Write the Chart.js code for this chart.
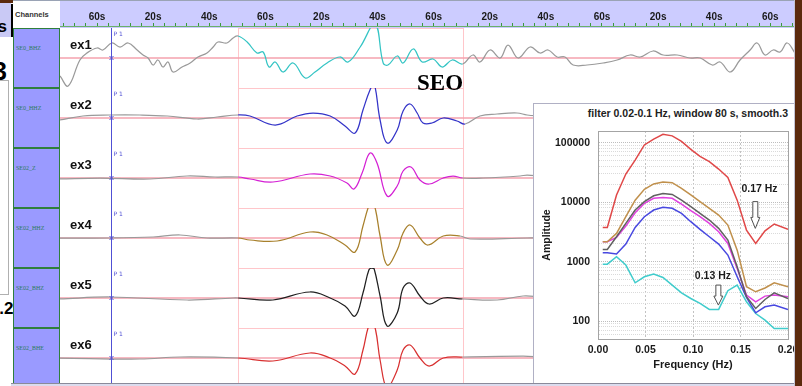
<!DOCTYPE html>
<html>
<head>
<meta charset="utf-8">
<title>SEO waveforms and spectra</title>
<script src="https://cdn.jsdelivr.net/npm/chart.js@4.4.1/dist/chart.umd.min.js"></script>
<style>
  html, body { margin:0; padding:0; }
  body { width:802px; height:386px; position:relative; overflow:hidden; background:#fff;
         font-family:"Liberation Sans", Arial, sans-serif; }
  .a { position:absolute; }
  canvas { position:absolute; display:block; }
  .cell { position:absolute; left:13px; width:45px; height:58px; background:#9a9aff; border:1px solid #2f7f3c; }
  .chan { position:absolute; left:16px; font:6px "Liberation Serif", serif; color:#2f7a5c; white-space:nowrap; line-height:8px; }
  .exlab { position:absolute; left:70px; font:bold 13px "Liberation Sans", Arial, sans-serif; color:#111; line-height:15px; }
</style>
</head>
<body>

<!-- neighbouring window fragment on the left -->
<div class="a" style="left:0;top:0;width:13px;height:3px;background:#5b2a0d"></div>
<div class="a" style="left:0;top:3px;width:11px;height:34px;background:#c9c9f5;overflow:hidden">
  <div class="a" style="left:-20px;top:14px;width:27px;text-align:right;font:bold 17px 'Liberation Sans',Arial,sans-serif;line-height:20px;color:#000">s</div>
</div>
<div class="a" style="left:11px;top:4px;width:2px;height:33px;background:#000"></div>
<div class="a" style="left:-20px;top:57px;width:27px;text-align:right;font:bold 25px 'Liberation Sans',Arial,sans-serif;line-height:29px;color:#000">3</div>
<div class="a" style="left:-10px;top:80px;width:17px;height:213px;border:1px solid #b0b0b0"></div>
<div class="a" style="left:-20px;top:299px;width:33.5px;text-align:right;font:bold 17px 'Liberation Sans',Arial,sans-serif;line-height:20px;color:#000">.2</div>

<!-- channel list header and time bar -->
<div class="a" style="left:13px;top:0;width:782px;height:1px;background:#9aa3b5"></div>
<div class="a" style="left:14px;top:1px;width:46px;height:26px;background:#fff"></div>
<div class="a" style="left:15px;top:10px;font:bold 7.5px 'Liberation Sans',Arial,sans-serif;color:#333;line-height:10px">Channels</div>
<div class="a" style="left:60px;top:1px;width:735px;height:27px;background:#ccccff"></div>
<canvas id="timeAxis" width="735" height="28" style="left:60px;top:0"></canvas>

<div id="cells"></div>
<div class="a" id="rows" style="left:60px;top:28px;width:735px;height:355px;overflow:hidden"></div>
<div id="labels"></div>

<div class="a" style="left:417px;top:70px;font:bold 23px 'Liberation Serif','Times New Roman',serif;line-height:26px;color:#000">SEO</div>

<!-- spectrum panel -->
<div class="a" style="left:533px;top:103px;width:268px;height:279px;border:1px solid #b0b0c4;background:#fff"></div>
<div class="a" style="left:540px;top:106px;width:248px;text-align:right;font:bold 10.5px 'Liberation Sans',Arial,sans-serif;line-height:14px;color:#222">filter 0.02-0.1 Hz, window 80 s, smooth.3</div>
<canvas id="spectrum" width="261" height="261" style="left:534px;top:122px"></canvas>

<!-- window frame -->
<div class="a" style="left:11px;top:383px;width:784px;height:2px;border-top:1px solid #8a8a9a;background:#dcdcee"></div>
<div class="a" style="left:794px;top:0;width:1px;height:386px;background:#c4c4d4"></div>
<div class="a" style="left:795px;top:0;width:7px;height:386px;background:#5b2a0d"></div>

<script>
// ---------- time axis (seconds, 0 = first "60s" mark) ----------
const T_MIN = -13.2, T_MAX = 248.8;
const TIME_TICKS  = [0, 20, 40, 60, 80, 100, 120, 140, 160, 180, 200, 220, 240];
const TIME_LABELS = ['60s','20s','40s','60s','20s','40s','60s','20s','40s','60s','20s','40s','60s'];
const P1_TIME = 5.0;
const WINDOW = [50.3, 130.3];

// ---------- traces ----------
const TRACE_NAMES = ['ex1', 'ex2', 'ex3', 'ex4', 'ex5', 'ex6'];
const CHANNELS = ['SE0_BHZ', 'SE0_HHZ', 'SE02_Z', 'SE02_HHZ', 'SE02_BHZ', 'SE02_BHE'];
const TRACE_COLORS = ['#33c4c4', '#3434c8', '#d420d4', '#a8802c', '#202020', '#d83030'];
const OUTSIDE_COLOR = '#9a9a9a';

const EX1_TIME = [-13.2,-10.3,-6.1,-3.6,0,2.1,5.3,8.2,11.1,14.3,16.4,18.2,20.0,21.7,23.5,25.3,27.1,30.3,33.2,36.0,
  39.2,41.4,43.1,46.3,48.5,50.3,53.5,57.0,59.2,61.3,63.5,66.3,69.9,74.2,77.7,82.0,86.6,89.5,93.8,99.1,
  102.0,103.7,107.0,109.1,112.7,115.9,119.8,123.0,126.6,130.3,134.0,136.5,140.1,143.7,146.5,150.1,154.4,157.9,160.8,164.0,
  166.8,169.7,174.7,180.4,185.4,190.0,193.6,198.2,201.8,206.8,211.4,215.0,219.3,222.1,225.7,229.2,232.8,235.3,238.1,241.0,
  243.5,246.0,248.8];
const EX1_AMP = [-18,-28,-2,5,10,8,15,11,15,8,3,0,-7,-2,-9,-4,-14,-9,-5,1,
  5,11,16,15,20,22,16,5,6,-9,-4,-14,-5,-20,-14,-5,1,-4,11,34,
  -5,-7,2,-5,9,-4,-1,-9,-2,-6,3,-4,8,0,13,0,11,5,8,1,
  1,-7,-7,-5,-2,3,1,7,3,3,0,0,-7,-4,-14,-2,8,15,3,8,
  6,15,5];

const EX2_TIME = [-13.2,-5,4.6,15.3,25,35.7,42.8,50.3,54.5,63.5,71.3,77.0,83.1,88.4,92.0,94.8,97.3,98.8,100.9,103.4,
  107.0,109.1,111.6,114.1,116.2,119.4,123.4,128.3,131.2,136.5,142.6,149.7,153.3,158];
const EX2_AMP = [-2,2,3,3,2,-1,1,3,2,-7,2,5,2,-8,-15,8,28,34,-2,-25,
  -12,7,14,5,-5,-5,0,-3,-6,2,4,5,3,2];

const EX3_TIME = [-13.2,1.1,18.9,32.1,42.1,50.3,54.5,62.7,75.9,83.1,89.1,91.6,94.5,97.3,99.8,103.4,107.0,109.1,111.9,115.1,
  118.4,123.4,126.9,130.3,137.6,150.8,153.3,158];
const EX3_AMP = [-1,0,-1,2,1,1,-1,-4,4,2,-5,-11,5,25,15,-18,-8,7,11,-2,
  -6,0,2,0,0,2,3,2];

const EX4_TIME = [-13.2,5,20,29.6,39.2,50.3,54.5,64.2,75.9,82.0,88.4,92.0,94.8,96.6,97.9,99.3,100.9,103.4,107.0,109.1,
  111.6,115.1,118.0,123.4,129.4,133.0,153.3,158];
const EX4_AMP = [0,0,1,3,0,0,-2,-3,6,3,-7,-14,12,30,38,28,2,-27,-12,5,
  13,0,-7,2,2,-1,0,0];

const EX5_TIME = [-13.2,4.6,32.1,48.5,50.3,62.7,75.9,83.1,88.4,92.0,94.8,96.9,98.0,98.8,100.9,103.4,107.0,109.1,111.6,115.1,
  118.4,123.4,130.3,142.6,151.9,158];
const EX5_AMP = [-1,1,-2,0,0,-2,6,0,-8,-18,5,28,30,29,2,-28,-15,10,15,2,
  -6,0,-1,-2,2,1];

const EX6_TIME = [-13.2,15.3,29.6,50.3,62.7,75.9,83.1,88.4,92.0,94.8,96.6,97.9,99.3,100.9,103.4,107.0,109.1,111.6,115.1,118.4,
  123.4,130.3,151.9,158];
const EX6_AMP = [0,-1,1,0,-3,5,0,-8,-16,8,30,36,28,-2,-30,-12,8,13,0,-8,
  0,1,2,1];

const TRACE_TIMES = [EX1_TIME, EX2_TIME, EX3_TIME, EX4_TIME, EX5_TIME, EX6_TIME];
const TRACE_AMPS  = [EX1_AMP, EX2_AMP, EX3_AMP, EX4_AMP, EX5_AMP, EX6_AMP];

// ---------- amplitude spectra ----------
const FREQS = [0.005,0.0098,0.0195,0.0293,0.0391,0.0488,0.0586,0.0684,0.0781,0.0879,0.0977,
  0.1074,0.1172,0.127,0.1367,0.1465,0.1563,0.166,0.1758,0.1855,0.2];
const SPEC_EX1 = [907,907,1210,875,441,556,617,542,403,299,240,198,157,157,324,403,211,134,104,75,75];
const SPEC_EX2 = [1410,1410,1340,1970,3760,5690,7370,8170,7860,6470,4690,3480,2620,1970,1290,556,250,138,174,186,157];
const SPEC_EX3 = [2160,2160,2550,3960,6640,9530,11600,12000,11600,9290,7170,5690,4390,3180,2020,769,274,211,263,274,257];
const SPEC_EX4 = [2160,2160,2980,5690,10800,16400,20200,21800,21200,17100,13200,10200,7850,6070,4120,1560,378,311,360,441,378];
const SPEC_EX5 = [1600,1600,2620,4390,7370,10200,12800,14000,13500,10800,8380,6470,5000,3620,2300,820,257,163,231,299,240];
const SPEC_EX6 = [3760,3760,13150,29700,51000,91400,115000,138000,130000,105000,77000,59000,48000,36000,26000,10800,3390,2020,3300,4290,3480];
const SPEC_SERIES = [SPEC_EX6, SPEC_EX4, SPEC_EX5, SPEC_EX3, SPEC_EX2, SPEC_EX1];
const SPEC_COLORS = ['#e04848', '#c0904c', '#606060', '#e040e0', '#4848e0', '#40cccc'];

const FREQ_TICKS = [0, 0.05, 0.10, 0.15, 0.20];
const AMP_TICKS = [100, 1000, 10000, 100000];
const AMP_MIN = 50, AMP_MAX = 157000;

// marked spectral notches: arrow frequency, arrow top/tip amplitude, label position
const NOTCH_FREQS = [0.1656, 0.1267];
const NOTCH_TOPS  = [10200, 403];
const NOTCH_TIPS  = [3620, 186];
const NOTE_FREQS  = [0.170, 0.121];
const NOTE_AMPS   = [16400, 578];

Chart.defaults.font.family = '"Liberation Sans", Arial, sans-serif';

const baseOpts = () => ({
  responsive: false, animation: false, events: [], devicePixelRatio: 1,
  layout: { padding: 0 },
  plugins: { legend: { display: false }, tooltip: { enabled: false } }
});

// ---------- time bar ----------
const MINOR_TIMES = [];
for (let v = -12; v <= 248; v += 4) MINOR_TIMES.push(v);

new Chart(document.getElementById('timeAxis'), {
  type: 'line',
  data: { datasets: [] },
  options: Object.assign(baseOpts(), {
    scales: {
      x: {
        type: 'linear', position: 'top', min: T_MIN, max: T_MAX,
        afterBuildTicks(s) { s.ticks = MINOR_TIMES.map(v => ({ value: v })); },
        afterFit(s) { s.height = 26; s.paddingLeft = 0; s.paddingRight = 0; },
        ticks: {
          autoSkip: false, maxRotation: 0, padding: 0, color: '#1a1a1a',
          font: { size: 10, weight: 'bold' },
          callback(v) { const i = TIME_TICKS.indexOf(v); return i >= 0 ? TIME_LABELS[i] : ''; }
        },
        grid: { drawOnChartArea: false, tickLength: 3, color: '#3c9a3c', lineWidth: 1 },
        border: { color: '#6ab06a', width: 1 }
      },
      y: { display: false, min: 0, max: 1 }
    }
  })
});

// ---------- channel cells and labels ----------
const cells = document.getElementById('cells');
const labels = document.getElementById('labels');
CHANNELS.forEach((name, i) => {
  const top = 28 + 60 * i;
  const c = document.createElement('div');
  c.className = 'cell'; c.style.top = top + 'px';
  cells.appendChild(c);
  const t = document.createElement('div');
  t.className = 'chan'; t.style.top = (top + 16) + 'px'; t.textContent = name;
  cells.appendChild(t);
  const e = document.createElement('div');
  e.className = 'exlab'; e.style.top = (top + 9) + 'px'; e.textContent = TRACE_NAMES[i];
  labels.appendChild(e);
});

// ---------- trace rows ----------
const rowDecor = {
  id: 'rowDecor',
  beforeDatasetsDraw(chart) {
    const { ctx, chartArea: { left, right, top, bottom }, scales: { x, y } } = chart;
    const y0 = y.getPixelForValue(0);
    const xs = Math.round(x.getPixelForValue(WINDOW[0])) + 0.5;
    const xe = Math.round(x.getPixelForValue(WINDOW[1])) + 0.5;
    ctx.save();
    ctx.strokeStyle = '#ffc6ca'; ctx.lineWidth = 1;
    ctx.beginPath();
    ctx.moveTo(xs, top); ctx.lineTo(xs, bottom);
    ctx.moveTo(xe, top); ctx.lineTo(xe, bottom);
    ctx.moveTo(xs, top + 0.5); ctx.lineTo(xe, top + 0.5);
    ctx.stroke();
    ctx.strokeStyle = '#f4a2ae'; ctx.lineWidth = 1.5;
    ctx.beginPath(); ctx.moveTo(left, y0); ctx.lineTo(right, y0); ctx.stroke();
    ctx.restore();
  },
  afterDatasetsDraw(chart) {
    const { ctx, chartArea: { top, bottom }, scales: { x, y } } = chart;
    const xp = Math.round(x.getPixelForValue(P1_TIME)) + 0.5;
    const y0 = y.getPixelForValue(0);
    ctx.save();
    ctx.strokeStyle = '#5050d4'; ctx.lineWidth = 1;
    ctx.beginPath(); ctx.moveTo(xp, top); ctx.lineTo(xp, bottom); ctx.stroke();
    ctx.beginPath();
    ctx.moveTo(xp - 2, y0 - 2); ctx.lineTo(xp + 2, y0 + 2);
    ctx.moveTo(xp - 2, y0 + 2); ctx.lineTo(xp + 2, y0 - 2);
    ctx.stroke();
    ctx.fillStyle = '#5050d4';
    ctx.font = '6px "DejaVu Sans", sans-serif';
    ctx.textBaseline = 'top';
    ctx.fillText('P 1', xp + 2, top + 3);
    ctx.restore();
  }
};

const rows = document.getElementById('rows');
TRACE_NAMES.forEach((name, i) => {
  const cv = document.createElement('canvas');
  cv.width = 735; cv.height = 60;
  cv.style.left = '0px'; cv.style.top = (60 * i) + 'px';
  rows.appendChild(cv);
  const color = TRACE_COLORS[i];
  const inWin = (a, b) => { const m = (a + b) / 2; return m > WINDOW[0] && m < WINDOW[1]; };
  new Chart(cv, {
    type: 'line',
    data: {
      datasets: [{
        data: TRACE_TIMES[i].map((t, k) => ({ x: t, y: TRACE_AMPS[i][k] })),
        borderColor: OUTSIDE_COLOR, borderWidth: 1.25, pointRadius: 0,
        tension: 0.4,
        segment: { borderColor: ctx => inWin(ctx.p0.parsed.x, ctx.p1.parsed.x) ? color : OUTSIDE_COLOR }
      }]
    },
    options: Object.assign(baseOpts(), {
      scales: {
        x: { type: 'linear', display: false, min: T_MIN, max: T_MAX },
        y: { display: false, min: -30, max: 30 }
      }
    }),
    plugins: [rowDecor]
  });
});

// ---------- spectrum ----------
const specDecor = {
  id: 'specDecor',
  afterDatasetsDraw(chart) {
    const { ctx, chartArea: a, scales: { x, y } } = chart;
    ctx.save();
    ctx.strokeStyle = '#a4a4a4'; ctx.lineWidth = 1;
    ctx.strokeRect(Math.round(a.left) + 0.5, Math.round(a.top) + 0.5,
                   Math.round(a.right - a.left), Math.round(a.bottom - a.top));
    NOTCH_FREQS.forEach((f, i) => {
      const px = x.getPixelForValue(f);
      const yt = y.getPixelForValue(NOTCH_TOPS[i]);
      const yp = y.getPixelForValue(NOTCH_TIPS[i]);
      const head = Math.min(11, (yp - yt) * 0.45);
      ctx.beginPath();
      ctx.moveTo(px - 2.5, yt); ctx.lineTo(px + 2.5, yt);
      ctx.lineTo(px + 2.5, yp - head); ctx.lineTo(px + 4.5, yp - head);
      ctx.lineTo(px, yp); ctx.lineTo(px - 4.5, yp - head);
      ctx.lineTo(px - 2.5, yp - head); ctx.closePath();
      ctx.fillStyle = '#fff'; ctx.fill();
      ctx.strokeStyle = '#505050'; ctx.stroke();
      ctx.fillStyle = '#1a1a1a';
      ctx.font = 'bold 10.5px "Liberation Sans", Arial, sans-serif';
      ctx.textAlign = 'center'; ctx.textBaseline = 'middle';
      ctx.fillText(f.toFixed(2) + ' Hz', x.getPixelForValue(NOTE_FREQS[i]), y.getPixelForValue(NOTE_AMPS[i]));
    });
    ctx.restore();
  }
};

new Chart(document.getElementById('spectrum'), {
  type: 'line',
  data: {
    datasets: SPEC_SERIES.map((vals, i) => ({
      data: FREQS.map((f, k) => ({ x: f, y: vals[k] })),
      borderColor: SPEC_COLORS[i], borderWidth: 1.5, pointRadius: 0, tension: 0
    }))
  },
  options: Object.assign(baseOpts(), {
    layout: { padding: { top: 9, right: 7, left: 0, bottom: 0 } },
    scales: {
      x: {
        type: 'linear', min: 0, max: 0.2,
        afterBuildTicks(s) { s.ticks = FREQ_TICKS.map(v => ({ value: v })); },
        afterFit(s) { s.height = 44; s.paddingLeft = 0; s.paddingRight = 0; },
        ticks: { autoSkip: false, maxRotation: 0, padding: 5, color: '#1a1a1a',
                 font: { size: 10.5, weight: 'bold' }, callback: v => v.toFixed(2) },
        grid: { drawTicks: false, color: '#c2c2c2', lineWidth: 1 },
        border: { color: '#a4a4a4', dash: [2, 2] },
        title: { display: true, text: 'Frequency (Hz)', color: '#1a1a1a',
                 font: { size: 11, weight: 'bold' }, padding: { top: 0, bottom: 11 } }
      },
      y: {
        type: 'logarithmic', min: AMP_MIN, max: AMP_MAX,
        afterBuildTicks(s) {
          const t = [];
          for (let e = 1; e <= 5; e++) for (let m = 1; m <= 9; m++) {
            const v = m * Math.pow(10, e);
            if (v >= s.min && v <= s.max) t.push({ value: v });
          }
          s.ticks = t;
        },
        afterFit(s) { s.width = 64; s.paddingTop = 0; s.paddingBottom = 0; },
        ticks: { autoSkip: false, padding: 8, color: '#1a1a1a', font: { size: 10.5, weight: 'bold' },
                 callback: v => AMP_TICKS.includes(v) ? String(v) : '' },
        grid: { drawTicks: false, lineWidth: 1,
                color: c => AMP_TICKS.includes(c.tick && c.tick.value) ? '#bdbdbd' : '#dadada' },
        border: { color: '#a4a4a4', dash: [1, 1] },
        title: { display: true, text: 'Amplitude', color: '#1a1a1a',
                 font: { size: 10.5, weight: 'bold' }, padding: { top: 7, bottom: 0 } }
      }
    }
  }),
  plugins: [specDecor]
});
</script>
</body>
</html>
